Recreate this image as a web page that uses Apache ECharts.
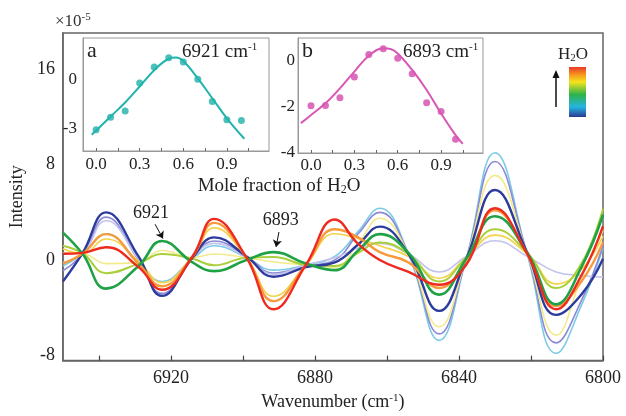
<!DOCTYPE html>
<html><head><meta charset="utf-8">
<script src="https://cdn.jsdelivr.net/npm/echarts@6/dist/echarts.min.js"></script>
<style>html,body{margin:0;padding:0;background:#fff}#c{width:626px;height:416px}</style>
</head><body><div id="c"></div>
<script>
// Second-derivative NIR spectra of the mixtures (intensity in units of 1e-5)
const wavenumber = [6950, 6944.5, 6938, 6929, 6922.5, 6914, 6908, 6899, 6891.5, 6882.5, 6874.5, 6868, 6862, 6854, 6845.5, 6838, 6830, 6821, 6813, 6806, 6800];
const navy          = [-1.8, 0.6, 4.0, 0.3, -3.0, 0.2, 1.9, 0.3, -1.4, -0.6, -0.2, 1.3, 2.8, 0.5, -4.27, 0.1, 5.87, 0.6, -4.6, -2.9, 0.1];
const lavender      = [-0.9, 0.5, 3.6, 0.0, -2.8, 0.2, 1.6, 0.3, -1.1, -0.5, 0.0, 2.2, 4.0, 0.5, -6.2, 0.1, 8.27, 0.5, -6.95, -3.4, 1.2];
const cyan          = [-0.5, 0.5, 2.2, -0.2, -1.8, 0.1, 1.2, 0.2, -0.85, -0.4, 0.3, 2.4, 4.35, 0.5, -6.74, 0.1, 9.0, 0.4, -7.83, -3.8, 1.0];
const lightLavender = [-0.2, 0.5, 3.3, 0.1, -2.5, 0.2, 1.4, 0.2, -1.2, -0.4, 0.2, 1.0, 1.4, 0.5, -1.0, 0.3, 1.62, 0.3, -1.0, -1.3, -1.45];
const green         = [2.3, 0.5, -2.4, -0.5, 1.6, -0.2, -0.93, 0.0, 0.66, -0.3, -0.85, 0.8, 2.17, 0.6, -2.9, 0.1, 3.67, 0.6, -3.72, -0.6, 3.8];
const yellowGreen   = [1.2, 0.55, -1.1, -0.3, 0.5, 0.1, -0.44, 0.2, 0.25, -0.4, -0.5, 0.6, 1.48, 0.5, -1.8, 0.2, 2.58, 0.6, -2.35, -0.3, 4.3];
const paleYellow    = [0.6, 0.55, -0.3, -0.2, 0.8, 0.2, 0.5, 0.2, -0.16, -0.4, -0.6, 1.4, 3.5, 0.5, -5.6, 0.1, 7.1, 0.5, -6.3, -1.5, 2.5];
const yellow        = [0.95, 0.55, 1.76, -0.1, -1.9, 0.3, 2.7, 0.2, -3.04, -0.4, 2.2, 1.8, 1.2, 0.3, -1.53, 0.2, 2.09, 0.5, -2.0, -0.8, 2.0];
const orange        = [-0.3, 0.55, 2.17, -0.3, -2.2, 0.3, 3.12, 0.2, -3.45, -0.4, 2.58, 1.9, 0.66, -0.2, -2.35, 0.0, 4.17, 0.5, -3.86, -1.8, 1.5];
const red           = [0.52, 0.6, 1.07, -0.6, -2.5, 0.3, 3.45, 0.2, -4.13, -0.4, 3.4, 1.35, 0.0, -1.0, -2.08, -0.4, 4.35, 0.5, -4.13, -1.3, 2.85];

// Main axis ticks
const xTickValues = [6800, 6820, 6840, 6860, 6880, 6900, 6920, 6940];
const xLabelValues = [6800, 6840, 6880, 6920];
const yLabelValues = [-8, 0, 8, 16];

// Inset data: intensity vs. mole fraction of water
const moleFraction = [0, 0.1, 0.2, 0.3, 0.4, 0.5, 0.6, 0.7, 0.8, 0.9, 1.0];
const band6921 = [-3.05, -2.28, -1.9, -0.18, 0.79, 1.36, 1.1, 0.05, -1.32, -2.43, -2.48];
const fit6921X = [-0.03, 0.1, 0.2, 0.3, 0.4, 0.5, 0.55, 0.6, 0.7, 0.8, 0.9, 1.02];
const fit6921  = [-3.36, -2.24, -1.38, -0.4, 0.6, 1.3, 1.37, 1.16, 0.1, -1.12, -2.35, -3.6];
const band6893 = [-1.95, -1.93, -1.6, -0.7, 0.28, 0.53, 0.12, -0.55, -1.82, -2.2, -3.4];
const fit6893X = [-0.07, 0.0, 0.1, 0.2, 0.3, 0.4, 0.5, 0.55, 0.6, 0.7, 0.8, 0.9, 1.0, 1.05];
const fit6893  = [-2.7, -2.35, -1.84, -1.19, -0.46, 0.23, 0.55, 0.52, 0.33, -0.39, -1.26, -2.28, -3.22, -3.6];
const insetXLabels = [0, 0.3, 0.6, 0.9];
const insetXTicks = [0, 0.15, 0.3, 0.45, 0.6, 0.75, 0.9, 1.05];

const SERIF = 'Liberation Serif';
const zip = (xs, ys) => xs.map((x, i) => [x, ys[i]]);

const curves = [
  { data: cyan, color: '#7ccbe6', width: 1.6 },
  { data: lavender, color: '#8c8ad6', width: 1.6 },
  { data: paleYellow, color: '#f3ea8a', width: 1.6 },
  { data: lightLavender, color: '#c3c3ec', width: 1.6 },
  { data: yellow, color: '#f3d24a', width: 1.6 },
  { data: yellowGreen, color: '#a9d03c', width: 2 },
  { data: navy, color: '#2d3b9d', width: 2.4 },
  { data: orange, color: '#f79a3c', width: 2.4 },
  { data: green, color: '#1fa245', width: 2.6 },
  { data: red, color: '#ee2a1f', width: 2.4 }
];

const spectra = curves.map(c => ({
  type: 'line', xAxisIndex: 0, yAxisIndex: 0,
  data: zip(wavenumber, c.data),
  smooth: 0.45, showSymbol: false, silent: true,
  lineStyle: { color: c.color, width: c.width }
}));

// peak annotations on the green trace
const greenSeries = spectra[8];
greenSeries.markLine = {
  silent: true, symbol: ['none', 'arrow'], symbolSize: 7,
  label: { show: false },
  lineStyle: { color: '#111', width: 1, type: 'solid' },
  data: [
    [{ coord: [6924.4, 3.0] }, { coord: [6922.2, 1.8] }],
    [{ coord: [6890.0, 2.35] }, { coord: [6890.8, 1.1] }]
  ]
};
greenSeries.markPoint = {
  silent: true, symbol: 'circle', symbolSize: 1,
  itemStyle: { color: 'rgba(0,0,0,0)' },
  label: { show: true, position: 'inside', color: '#222', fontFamily: SERIF, fontSize: 18 },
  data: [
    { coord: [6925.5, 3.9], value: '6921' },
    { coord: [6889.5, 3.3], value: '6893' }
  ]
};

const axisLabelBase = { fontFamily: SERIF, fontSize: 18, color: '#222', formatter: v => String(v) };
const insetLabel = { fontFamily: SERIF, fontSize: 17, color: '#222' };

const option = {
  backgroundColor: '#fff',
  animation: false,
  grid: [
    { left: 53, top: 33, width: 550, height: 334, show: true, borderColor: '#666', borderWidth: 1.5, backgroundColor: 'rgba(0,0,0,0)', containLabel: false },
    { left: 83, top: 38, width: 186, height: 113, show: true, borderColor: '#999', borderWidth: 1, backgroundColor: '#fff', containLabel: false },
    { left: 298, top: 38, width: 185, height: 115, show: true, borderColor: '#999', borderWidth: 1, backgroundColor: '#fff', containLabel: false }
  ],
  xAxis: [
    {
      gridIndex: 0, type: 'value', min: 6800, max: 6950, inverse: true,
      axisLine: { show: true, onZero: false, lineStyle: { color: '#666', width: 1.5 } },
      axisTick: { show: true, inside: true, length: 5, customValues: xTickValues, lineStyle: { color: '#444', width: 1.2 } },
      axisLabel: Object.assign({ customValues: xLabelValues, margin: 9 }, axisLabelBase),
      splitLine: { show: false },
      name: '{n|Wavenumber (cm}{s|-1}{n|)}', nameLocation: 'middle', nameGap: 30,
      nameTextStyle: { rich: { n: { fontFamily: SERIF, fontSize: 18, color: '#222' }, s: { fontFamily: SERIF, fontSize: 11, color: '#222', verticalAlign: 'top', padding: [0, 0, 8, 0] } } }
    },
    {
      gridIndex: 1, type: 'value', min: -0.09, max: 1.19,
      axisLine: { show: true, onZero: false, lineStyle: { color: '#999' } },
      axisTick: { show: true, inside: true, length: 3, customValues: insetXTicks, lineStyle: { color: '#666' } },
      axisLabel: Object.assign({ customValues: insetXLabels, margin: 5, formatter: v => v.toFixed(1) }, insetLabel),
      splitLine: { show: false }
    },
    {
      gridIndex: 2, type: 'value', min: -0.09, max: 1.19,
      axisLine: { show: true, onZero: false, lineStyle: { color: '#999' } },
      axisTick: { show: true, inside: true, length: 3, customValues: insetXTicks, lineStyle: { color: '#666' } },
      axisLabel: Object.assign({ customValues: insetXLabels, margin: 4, formatter: v => v.toFixed(1) }, insetLabel),
      splitLine: { show: false }
    }
  ],
  yAxis: [
    {
      gridIndex: 0, type: 'value', min: -8.44, max: 19.05,
      axisLine: { show: true, onZero: false, lineStyle: { color: '#666', width: 1.5 } },
      axisTick: { show: false },
      axisLabel: Object.assign({ customValues: yLabelValues, margin: 8 }, axisLabelBase),
      splitLine: { show: false },
      name: 'Intensity', nameLocation: 'middle', nameGap: 27, nameRotate: 90,
      nameTextStyle: { fontFamily: SERIF, fontSize: 18, color: '#222' }
    },
    {
      gridIndex: 1, type: 'value', min: -4.35, max: 2.57,
      axisLine: { show: true, onZero: false, lineStyle: { color: '#999' } },
      axisTick: { show: false },
      axisLabel: Object.assign({ customValues: [-3, 0], margin: 6 }, insetLabel),
      splitLine: { show: false }
    },
    {
      gridIndex: 2, type: 'value', min: -4, max: 1,
      axisLine: { show: true, onZero: false, lineStyle: { color: '#999' } },
      axisTick: { show: false },
      axisLabel: Object.assign({ customValues: [-4, -2, 0], margin: 3 }, insetLabel),
      splitLine: { show: false }
    }
  ],
  series: spectra.concat([
    { type: 'line', xAxisIndex: 1, yAxisIndex: 1, data: zip(fit6921X, fit6921), smooth: 0.4, showSymbol: false, silent: true, lineStyle: { color: '#22b3ad', width: 2 } },
    { type: 'scatter', xAxisIndex: 1, yAxisIndex: 1, data: zip(moleFraction, band6921), symbolSize: 7, silent: true, itemStyle: { color: '#1fb0a8' } },
    { type: 'line', xAxisIndex: 2, yAxisIndex: 2, data: zip(fit6893X, fit6893), smooth: 0.4, showSymbol: false, silent: true, lineStyle: { color: '#d957b4', width: 2 } },
    { type: 'scatter', xAxisIndex: 2, yAxisIndex: 2, data: zip(moleFraction, band6893), symbolSize: 7, silent: true, itemStyle: { color: '#d448ad' } }
  ]),
  graphic: [
    { type: 'text', left: 55, top: 12, style: { text: '{n|×10}{s|-5}', rich: { n: { fontFamily: SERIF, fontSize: 17, fill: '#333' }, s: { fontFamily: SERIF, fontSize: 11, fill: '#333', verticalAlign: 'top', padding: [0, 0, 8, 0] } } } },
    { type: 'text', left: 87, top: 40, style: { text: 'a', fontFamily: SERIF, fontSize: 22, fill: '#222' } },
    { type: 'text', left: 182, top: 42, style: { text: '{n|6921 cm}{s|-1}', rich: { n: { fontFamily: SERIF, fontSize: 19, fill: '#222' }, s: { fontFamily: SERIF, fontSize: 11, fill: '#222', verticalAlign: 'top', padding: [0, 0, 9, 0] } } } },
    { type: 'text', left: 302, top: 40, style: { text: 'b', fontFamily: SERIF, fontSize: 22, fill: '#222' } },
    { type: 'text', left: 403, top: 42, style: { text: '{n|6893 cm}{s|-1}', rich: { n: { fontFamily: SERIF, fontSize: 19, fill: '#222' }, s: { fontFamily: SERIF, fontSize: 11, fill: '#222', verticalAlign: 'top', padding: [0, 0, 9, 0] } } } },
    { type: 'text', x: 279, y: 186, style: { text: '{n|Mole fraction of H}{b|2}{n|O}', align: 'center', verticalAlign: 'middle', rich: { n: { fontFamily: SERIF, fontSize: 19, fill: '#222' }, b: { fontFamily: SERIF, fontSize: 12, fill: '#222', verticalAlign: 'bottom', padding: [8, 0, 0, 0] } } } },
    // H2O colour scale
    { type: 'text', x: 573, y: 55, style: { text: '{n|H}{b|2}{n|O}', align: 'center', verticalAlign: 'middle', rich: { n: { fontFamily: SERIF, fontSize: 17, fill: '#222' }, b: { fontFamily: SERIF, fontSize: 11, fill: '#222', verticalAlign: 'bottom', padding: [7, 0, 0, 0] } } } },
    { type: 'rect', shape: { x: 569, y: 67, width: 17, height: 50 }, style: { fill: new echarts.graphic.LinearGradient(0, 0, 0, 1, [
      { offset: 0, color: '#e83a2a' }, { offset: 0.15, color: '#f7941d' }, { offset: 0.3, color: '#f4e41c' },
      { offset: 0.55, color: '#2fb24a' }, { offset: 0.8, color: '#25b5e2' }, { offset: 1, color: '#2b3990' }]) } },
    { type: 'line', shape: { x1: 556, y1: 107, x2: 556, y2: 76 }, style: { stroke: '#111', lineWidth: 1.5 } },
    { type: 'polygon', shape: { points: [[556, 70], [552.5, 78], [559.5, 78]] }, style: { fill: '#111' } }
  ]
};

const chart = echarts.init(document.getElementById('c'), null, { renderer: 'canvas' });
chart.setOption(option);
</script>
</body></html>
